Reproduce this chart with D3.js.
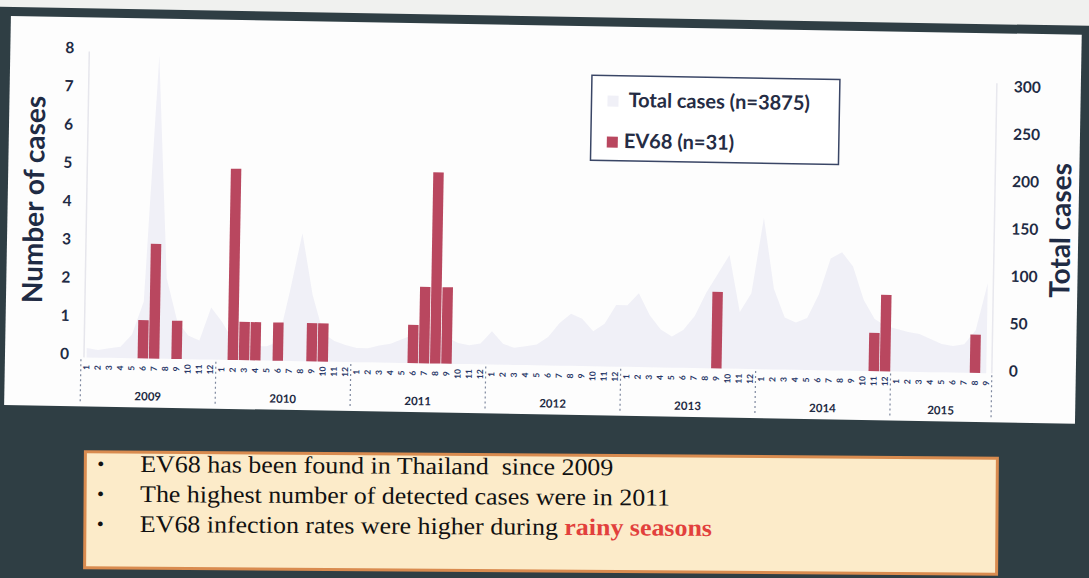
<!DOCTYPE html>
<html><head><meta charset="utf-8">
<script src="https://cdn.jsdelivr.net/npm/d3@7"></script>
<style>
html,body{margin:0;padding:0;background:#2f3e44;overflow:hidden}
svg{display:block}
text{white-space:pre}
</style>
</head><body><svg id="c" width="1089" height="578"></svg>
<script>
// ---------- data ----------
const years = ["2009","2010","2011","2012","2013","2014","2015"];
const monthsPerYear = [12,12,12,12,12,12,9];
const monthLabels = ["1","2","3","4","5","6","7","8","9","10","11","12"];
// EV68 positive cases per month (left axis)
const ev68 = [
  0,0,0,0,0,1,3,0,1,0,0,0,   // 2009
  0,5,1,1,0,1,0,0,1,1,0,0,   // 2010
  0,0,0,0,0,1,2,5,2,0,0,0,   // 2011
  0,0,0,0,0,0,0,0,0,0,0,0,   // 2012
  0,0,0,0,0,0,0,0,2,0,0,0,   // 2013
  0,0,0,0,0,0,0,0,0,0,1,2,   // 2014
  0,0,0,0,0,0,0,1,0          // 2015
];
// Total cases per month (right axis)
const totalCases = [
  10,8,10,12,25,60,320,85,40,25,20,55,
  40,20,15,15,15,20,75,135,70,30,22,18,
  15,15,18,20,25,30,35,30,28,22,20,22,
  35,22,18,20,22,30,45,55,50,37,45,65,
  65,78,55,40,33,40,55,80,100,120,60,80,
  160,85,55,50,55,80,118,125,110,75,55,48,
  45,42,40,35,30,28,30,45,95
];
const leftTicks = [0,1,2,3,4,5,6,7,8];
const rightTicks = [0,50,100,150,200,250,300];
const leftTitle = "Number of cases";
const rightTitle = "Total cases";
const legendLabels = ["Total cases (n=3875)", "EV68 (n=31)"];
const bulletLines = [
  [["EV68 has been found in Thailand  since 2009", false]],
  [["The highest number of detected cases were in 2011", false]],
  [["EV68 infection rates were higher during ", false], ["rainy seasons", true]]
];

// ---------- derived categories ----------
const cats = [];
years.forEach((y, yi) => {
  for (let m = 0; m < monthsPerYear[yi]; m++) cats.push({year: y, yi, m, label: monthLabels[m]});
});

// ---------- layout ----------
const svg = d3.select("#c");
const W = 1089, H = 578;
const NAVY = "#1f2b44";
const BAR = "#b9475f";
const AREA = "#f0f0f7";
const chartFont = "Lato, 'Open Sans', sans-serif";

svg.append("rect").attr("width", W).attr("height", H).attr("fill", "#2f3e44");

const rot = svg.append("g").attr("transform", "rotate(1.0,62,355)");
rot.append("rect").attr("x", -200).attr("y", -300).attr("width", 1600).attr("height", 308).attr("fill", "#f0f1ef");
rot.append("rect").attr("x", 5).attr("y", 17).attr("width", 1071).attr("height", 389).attr("fill", "#fdfdfd");

const x = d3.scaleBand().domain(d3.range(cats.length)).range([81, 992]).padding(0);
const yL = d3.scaleLinear().domain([0, 8]).range([357, 51]);
const yR = d3.scaleLinear().domain([0, 323]).range([357, 51]);

// axis lines (faint)
rot.append("line").attr("x1", 84).attr("x2", 84).attr("y1", yL(8)).attr("y2", yL(0))
  .attr("stroke", "#e6e6ec").attr("stroke-width", 1.5);
rot.append("line").attr("x1", 992).attr("x2", 992).attr("y1", yL(8) + 16).attr("y2", yL(0))
  .attr("stroke", "#e8e8ee").attr("stroke-width", 1.5);

// total cases area
const area = d3.area()
  .x((d, i) => x(i) + x.bandwidth() / 2)
  .y0(yR(0)).y1(d => yR(d))
  .curve(d3.curveLinear);
rot.append("path").datum(totalCases).attr("d", area).attr("fill", AREA);

// EV68 bars
const bw = x.bandwidth() * 0.93;
rot.append("g").selectAll("rect").data(ev68.map((v, i) => ({v, i})).filter(d => d.v > 0))
  .join("rect")
  .attr("x", d => x(d.i) + (x.bandwidth() - bw) / 2)
  .attr("width", bw)
  .attr("y", d => yL(d.v))
  .attr("height", d => yL(0) - yL(d.v))
  .attr("fill", BAR);

// left axis labels
rot.append("g").selectAll("text").data(leftTicks).join("text")
  .attr("x", 69).attr("y", d => yL(d) - 2)
  .attr("text-anchor", "end").attr("dominant-baseline", "middle")
  .attr("font-family", chartFont).attr("font-weight", 700).attr("font-size", 15.5)
  .attr("fill", NAVY).text(d => d);

// right axis labels
rot.append("g").selectAll("text").data(rightTicks).join("text")
  .attr("x", 1009).attr("y", d => yR(d) - 1)
  .attr("text-anchor", "start").attr("dominant-baseline", "middle")
  .attr("font-family", chartFont).attr("font-weight", 700).attr("font-size", 15.5)
  .attr("fill", NAVY).text(d => d);

// axis titles
rot.append("text").attr("transform", "translate(41,200) rotate(-90)")
  .attr("text-anchor", "middle")
  .attr("font-family", chartFont).attr("font-weight", 700).attr("font-size", 28)
  .attr("fill", NAVY).text(leftTitle);
rot.append("text").attr("transform", "translate(1068,213) rotate(-90)")
  .attr("text-anchor", "middle")
  .attr("font-family", chartFont).attr("font-weight", 700).attr("font-size", 28)
  .attr("fill", NAVY).text(rightTitle);

// month labels (tiny, rotated)
rot.append("g").selectAll("text").data(cats).join("text")
  .attr("transform", (d, i) => `translate(${x(i) + x.bandwidth() / 2 + 3},367) rotate(-90)`)
  .attr("text-anchor", "middle")
  .attr("font-family", chartFont).attr("font-weight", 700).attr("font-size", 8.5)
  .attr("fill", "#2a3868").text(d => d.label);

// year separators
const bounds = [0];
let acc = 0;
monthsPerYear.forEach(n => { acc += n; bounds.push(acc); });
const bx = b => b < cats.length ? x(b) : x(cats.length - 1) + x.bandwidth();
rot.append("g").selectAll("line").data(bounds).join("line")
  .attr("x1", bx).attr("x2", bx)
  .attr("y1", 359).attr("y2", 404)
  .attr("stroke", "#7d879e").attr("stroke-width", 1.2).attr("stroke-dasharray", "2,3");

// year labels
rot.append("g").selectAll("text").data(years).join("text")
  .attr("x", (d, yi) => (bx(bounds[yi]) + bx(bounds[yi + 1])) / 2)
  .attr("y", 396).attr("text-anchor", "middle").attr("dominant-baseline", "middle")
  .attr("font-family", chartFont).attr("font-weight", 700).attr("font-size", 11.5)
  .attr("fill", NAVY).text(d => d);

// legend
const lg = rot.append("g");
lg.append("rect").attr("x", 587).attr("y", 66).attr("width", 248).attr("height", 85)
  .attr("fill", "#ffffff").attr("stroke", "#3a4666").attr("stroke-width", 1.5);
const legendSw = [AREA, BAR];
lg.selectAll("rect.sw").data(legendLabels).join("rect").attr("class", "sw")
  .attr("x", 603).attr("y", (d, i) => 86 + i * 41).attr("width", 11).attr("height", 11)
  .attr("fill", (d, i) => legendSw[i]);
lg.selectAll("text").data(legendLabels).join("text")
  .attr("x", (d, i) => i === 0 ? 624 : 620).attr("y", (d, i) => 92 + i * 41)
  .attr("dominant-baseline", "middle")
  .attr("font-family", chartFont).attr("font-weight", 700).attr("font-size", 20)
  .attr("fill", "#252c44").text(d => d);

// ---------- bottom text box ----------
const tb = svg.append("g").attr("transform", "rotate(0.4,541,512)");
tb.append("rect").attr("x", 85).attr("y", 455).attr("width", 912).attr("height", 116)
  .attr("fill", "#fcebc9").attr("stroke", "#d98b4f").attr("stroke-width", 3);
const lineY = [469, 499, 529];
bulletLines.forEach((parts, li) => {
  tb.append("text").attr("x", 97).attr("y", lineY[li]).attr("dominant-baseline", "middle")
    .attr("font-family", "'Liberation Serif', serif").attr("font-size", 20).attr("fill", "#111")
    .text("•");
  const t = tb.append("text")
    .attr("transform", `translate(140,${lineY[li]}) scale(1.08,1)`)
    .attr("dominant-baseline", "middle")
    .attr("font-family", "'Liberation Serif', serif").attr("font-size", 24).attr("fill", "#111");
  parts.forEach(([s, red]) => {
    t.append("tspan").text(s)
      .attr("fill", red ? "#e2403c" : "#111")
      .attr("font-weight", red ? 700 : 400);
  });
});
</script>
</body></html>
